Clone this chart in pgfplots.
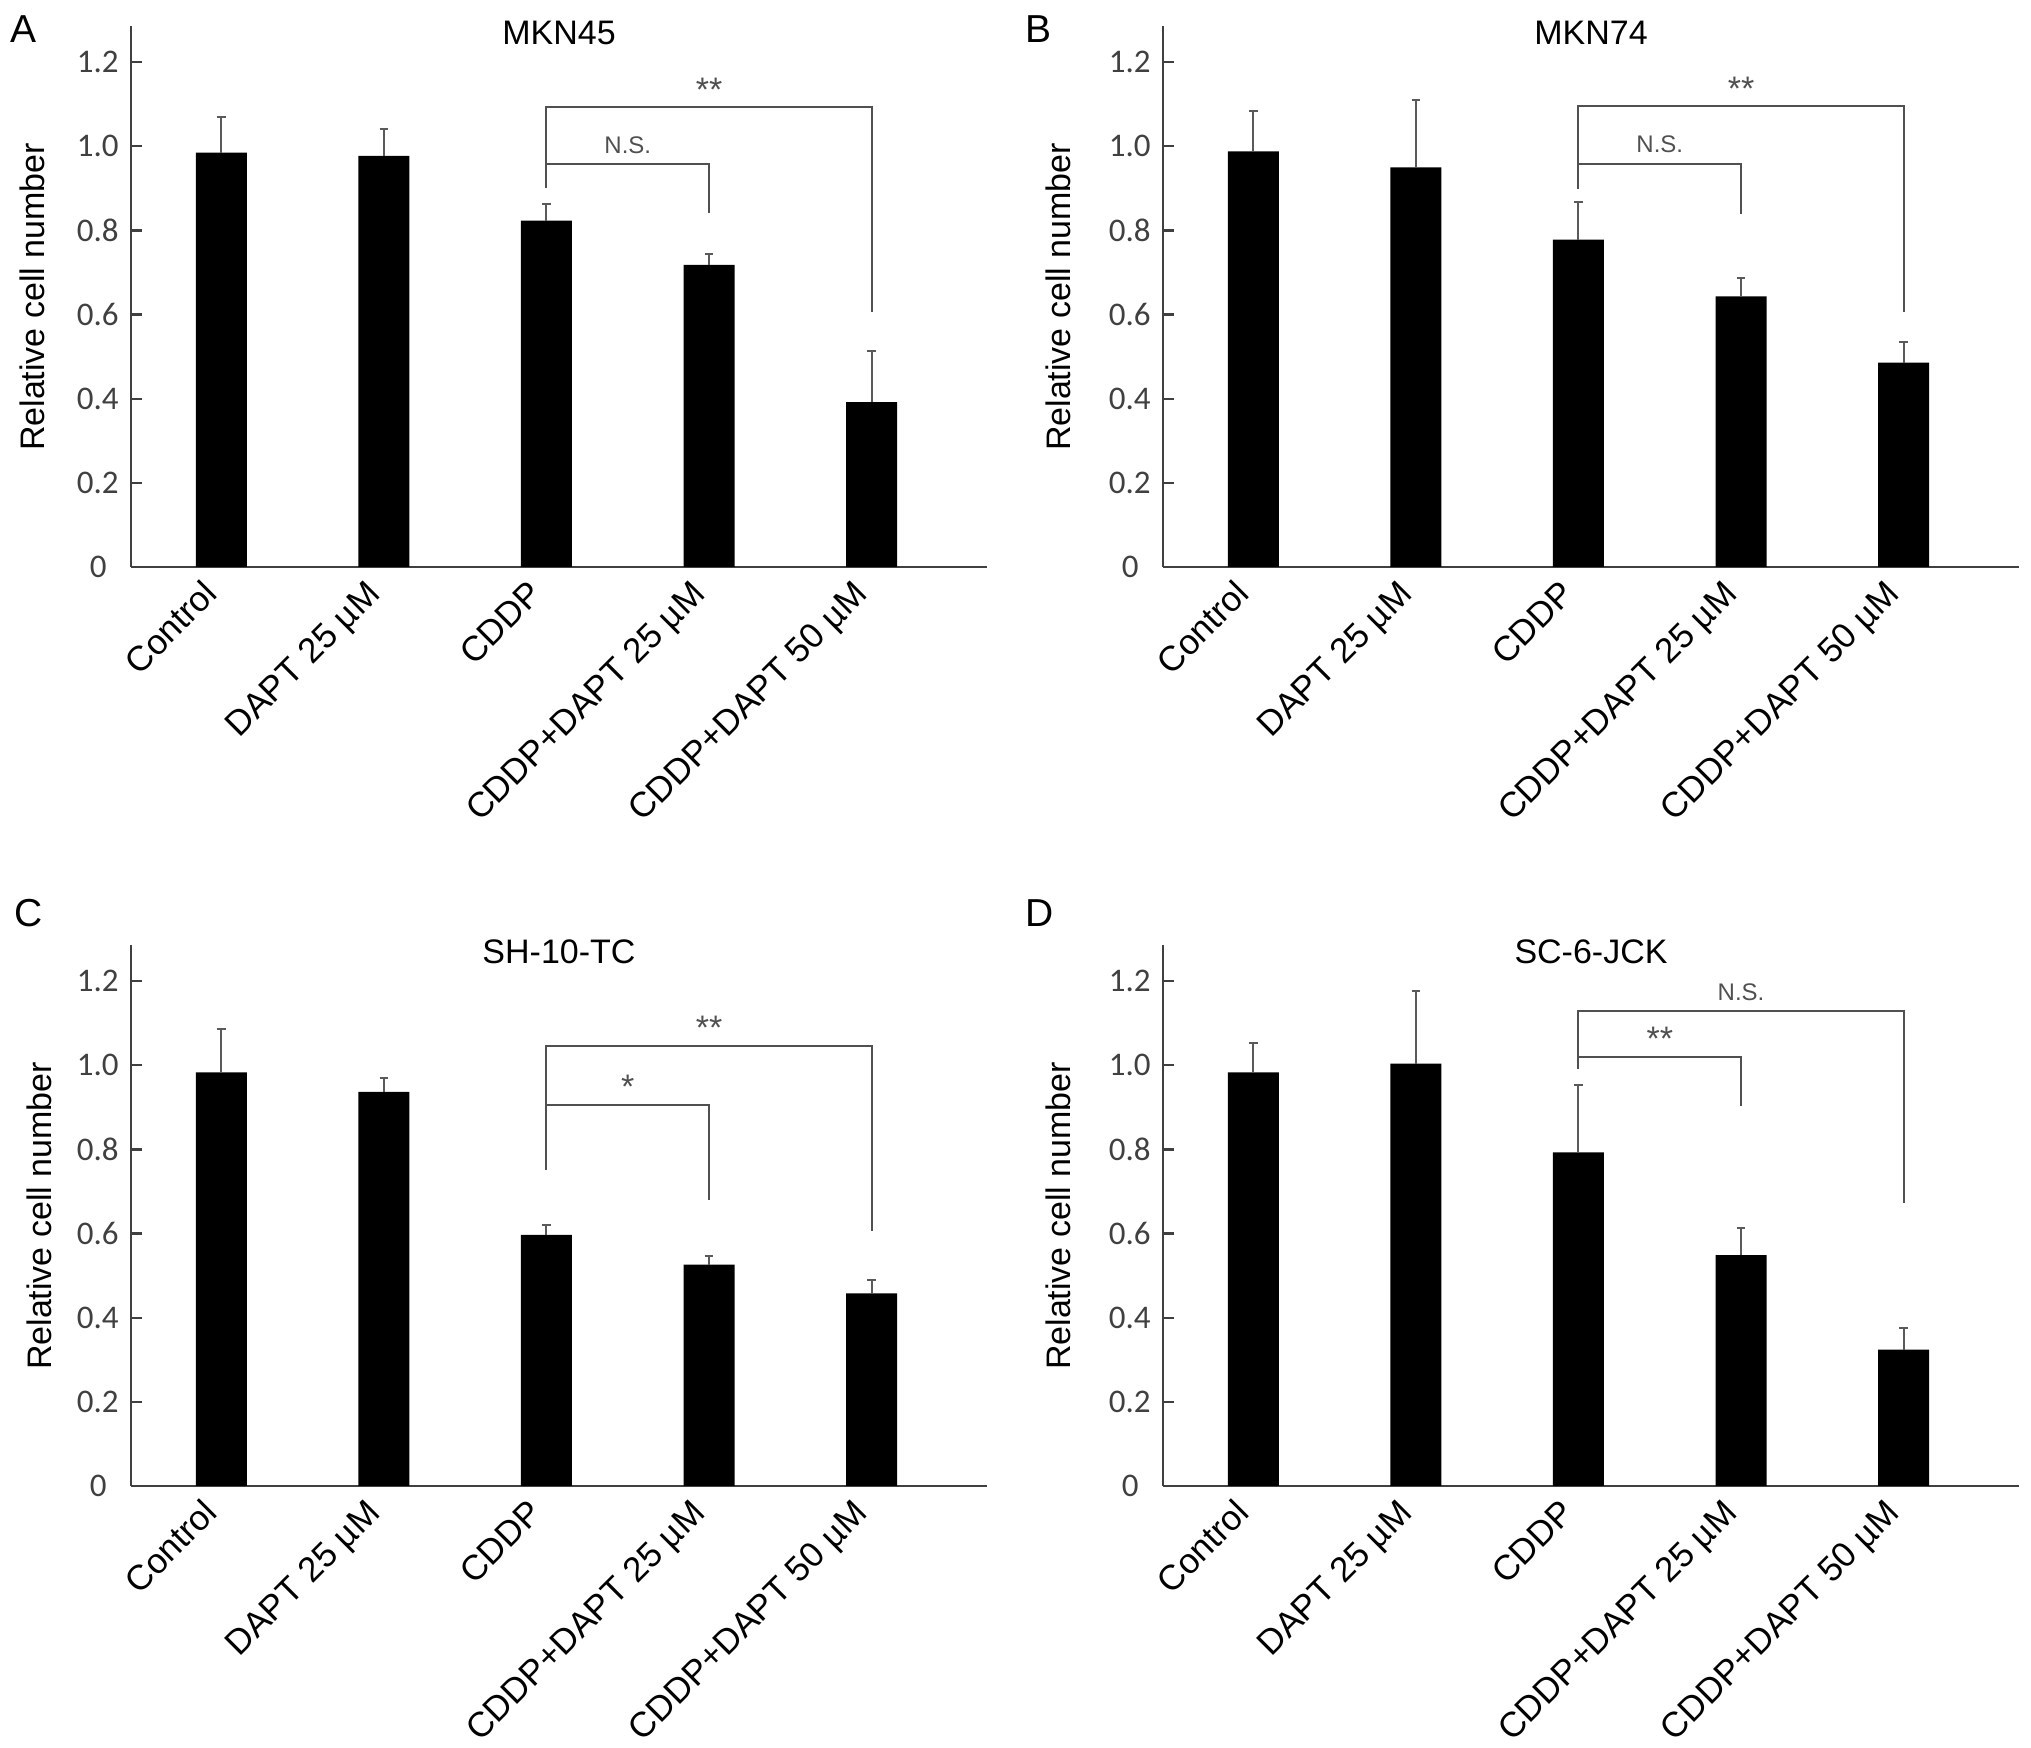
\documentclass[border=0pt]{standalone}
\usepackage{fontspec}
\setmainfont{Liberation Sans}
\newfontfamily\calibri{Carlito}
\usepackage{pgfplots}
\pgfplotsset{compat=1.18}
\newcommand\fs[1]{\fontsize{#1}{#1}\selectfont}
\definecolor{axgray}{RGB}{64,64,64}
\definecolor{brgray}{RGB}{80,80,80}
\definecolor{ergray}{RGB}{90,90,90}
\tikzset{bracket/.style={draw=brgray, line width=1pt}}
\pgfplotsset{
  panel/.style={
    anchor=south west,
    width=428pt, height=270.5pt, scale only axis,
    xmin=-0.556, xmax=4.71, ymin=0, ymax=1.286,
    axis x line=bottom, axis y line=left,
    axis line style={-, draw=axgray, line width=1.2pt},
    xtick={0,1,2,3,4},
    xticklabels={Control, DAPT 25 µM, CDDP, CDDP+DAPT 25 µM, CDDP+DAPT 50 µM},
    x tick style={draw=none},
    xticklabel style={font=\fs{17.5}, inner sep=0pt, xshift=-1pt, yshift=-14.5pt, rotate=45, anchor=base east},
    ytick={0,0.2,0.4,0.6,0.8,1.0,1.2},
    yticklabels={0\kern6pt,0.2,0.4,0.6,0.8,1.0,1.2},
    yticklabel style={font=\calibri\fs{16.5}, text=axgray, inner sep=0pt, xshift=-6pt, anchor=east},
    y tick style={draw=axgray, line width=1.1pt},
    major tick length=5.5pt,
    tick align=inside,
    clip=false,
  },
  barstyle/.style={
    ybar, bar width=25.5pt, fill=black, draw=none,
    error bars/.cd, y dir=plus, y explicit,
    error bar style={line width=1pt, draw=ergray},
    error mark options={line width=1pt, draw=ergray, mark size=2.2pt, rotate=90},
  },
}
\begin{document}
\begin{tikzpicture}
\useasboundingbox (0,0) rectangle (1015.5pt,874pt);

% ---------------- A ----------------
\begin{axis}[panel, at={(65.5pt,590.5pt)}]
\addplot[barstyle] coordinates {
 (0,0.985) +- (0,0.084)
 (1,0.977) +- (0,0.065)
 (2,0.823) +- (0,0.039)
 (3,0.718) +- (0,0.027)
 (4,0.392) +- (0,0.122)
};
\draw[bracket] (axis cs:2,0.900) |- (axis cs:4,1.093) -- (axis cs:4,0.606);
\draw[bracket] (axis cs:2,0.957) -- (axis cs:3,0.957) -- (axis cs:3,0.841);
\node[anchor=base, font=\fs{17}, text=brgray, yshift=3pt] at (axis cs:3,1.093) {**};
\node[anchor=base, font=\fs{12}, text=brgray, yshift=5.5pt] at (axis cs:2.5,0.957) {N.S.};
\node[anchor=base, font=\fs{17}] at (rel axis cs:0.5,0.9658) {MKN45};
\end{axis}

% ---------------- B ----------------
\begin{axis}[panel, at={(581.5pt,590.5pt)}]
\addplot[barstyle] coordinates {
 (0,0.988) +- (0,0.095)
 (1,0.950) +- (0,0.159)
 (2,0.778) +- (0,0.090)
 (3,0.643) +- (0,0.043)
 (4,0.486) +- (0,0.048)
};
\draw[bracket] (axis cs:2,0.899) |- (axis cs:4,1.095) -- (axis cs:4,0.606);
\draw[bracket] (axis cs:2,0.958) -- (axis cs:3,0.958) -- (axis cs:3,0.839);
\node[anchor=base, font=\fs{17}, text=brgray, yshift=3pt] at (axis cs:3,1.095) {**};
\node[anchor=base, font=\fs{12}, text=brgray, yshift=5.5pt] at (axis cs:2.5,0.958) {N.S.};
\node[anchor=base, font=\fs{17}] at (rel axis cs:0.5,0.9658) {MKN74};
\end{axis}

% ---------------- C ----------------
\begin{axis}[panel, at={(65.5pt,131pt)}]
\addplot[barstyle] coordinates {
 (0,0.983) +- (0,0.103)
 (1,0.937) +- (0,0.033)
 (2,0.597) +- (0,0.023)
 (3,0.526) +- (0,0.021)
 (4,0.458) +- (0,0.032)
};
\draw[bracket] (axis cs:2,0.752) |- (axis cs:4,1.046) -- (axis cs:4,0.607);
\draw[bracket] (axis cs:2,0.906) -- (axis cs:3,0.906) -- (axis cs:3,0.680);
\node[anchor=base, font=\fs{17}, text=brgray, yshift=3pt] at (axis cs:3,1.046) {**};
\node[anchor=base, font=\fs{17}, text=brgray, yshift=3pt] at (axis cs:2.5,0.906) {*};
\node[anchor=base, font=\fs{17}] at (rel axis cs:0.5,0.9658) {SH-10-TC};
\end{axis}

% ---------------- D ----------------
\begin{axis}[panel, at={(581.5pt,131pt)}]
\addplot[barstyle] coordinates {
 (0,0.983) +- (0,0.069)
 (1,1.004) +- (0,0.172)
 (2,0.793) +- (0,0.160)
 (3,0.549) +- (0,0.064)
 (4,0.324) +- (0,0.051)
};
\draw[bracket] (axis cs:2,0.991) |- (axis cs:4,1.128) -- (axis cs:4,0.672);
\draw[bracket] (axis cs:2,1.020) -- (axis cs:3,1.020) -- (axis cs:3,0.903);
\node[anchor=base, font=\fs{17}, text=brgray, yshift=3pt] at (axis cs:2.5,1.020) {**};
\node[anchor=base, font=\fs{12}, text=brgray, yshift=5.5pt] at (axis cs:3,1.128) {N.S.};
\node[anchor=base, font=\fs{17}] at (rel axis cs:0.5,0.9658) {SC-6-JCK};
\end{axis}

% panel letters
\node[anchor=base west, font=\fs{19.5}, inner sep=0pt] at (5pt,852.5pt) {A};
\node[anchor=base west, font=\fs{19.5}, inner sep=0pt] at (512.5pt,852.5pt) {B};
\node[anchor=base west, font=\fs{19.5}, inner sep=0pt] at (7pt,410.5pt) {C};
\node[anchor=base west, font=\fs{19.5}, inner sep=0pt] at (512.5pt,410.5pt) {D};

% y labels
\node[rotate=90, anchor=base, font=\fs{17}, inner sep=0pt] at (22pt,725.5pt) {Relative cell number};
\node[rotate=90, anchor=base, font=\fs{17}, inner sep=0pt] at (535pt,725.5pt) {Relative cell number};
\node[rotate=90, anchor=base, font=\fs{17}, inner sep=0pt] at (25.5pt,266pt) {Relative cell number};
\node[rotate=90, anchor=base, font=\fs{17}, inner sep=0pt] at (535pt,266pt) {Relative cell number};
\end{tikzpicture}
\end{document}
